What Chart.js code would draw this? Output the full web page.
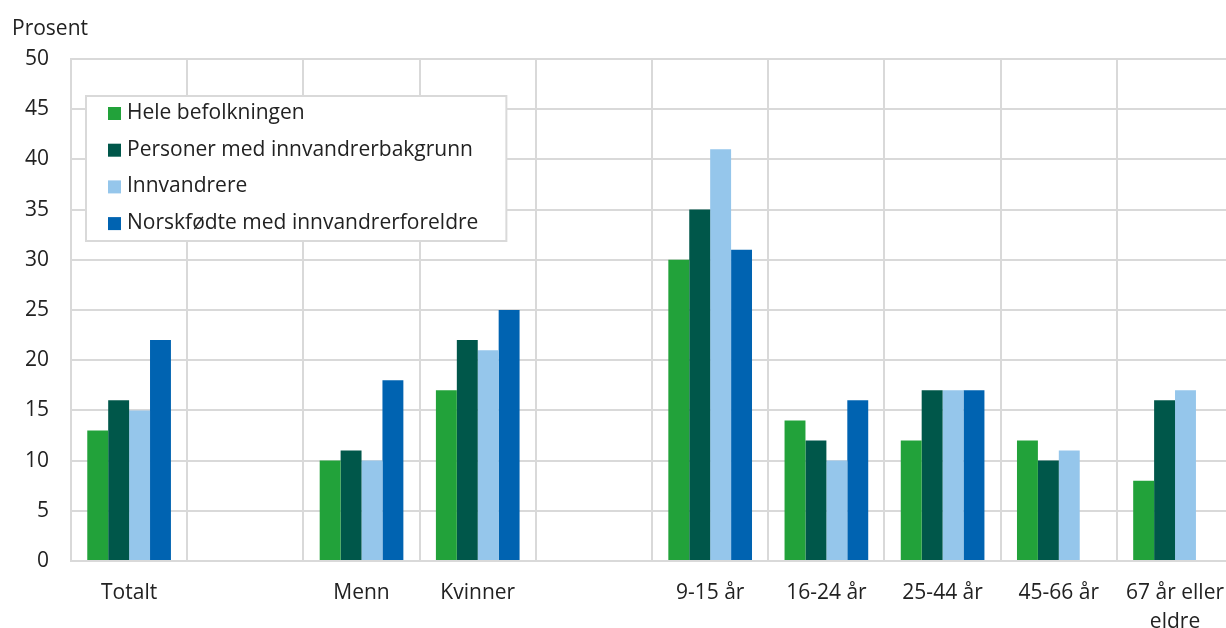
<!DOCTYPE html>
<html lang="no">
<head>
<meta charset="UTF-8">
<title>Prosent</title>
<script src="https://cdn.jsdelivr.net/npm/chart.js"></script>
<style>
    html, body {
        margin: 0;
        padding: 0;
        background: #fff;
        overflow: hidden;
    }
    #wrap {
        width: 1242px;
        height: 628px;
    }
</style>
</head>
<body>
<div id="wrap"><canvas id="chart"></canvas></div>
<script>
const categories = ['Totalt', '', 'Menn', 'Kvinner', '', '9-15 år', '16-24 år', '25-44 år', '45-66 år', ['67 år eller', 'eldre']];
const seriesNames = ['Hele befolkningen', 'Personer med innvandrerbakgrunn', 'Innvandrere', 'Norskfødte med innvandrerforeldre'];
const heleBefolkningen = [13, null, 10, 17, null, 30, 14, 12, 12, 8];
const innvandrerbakgrunn = [16, null, 11, 22, null, 35, 12, 17, 10, 16];
const innvandrere = [15, null, 10, 21, null, 41, 10, 17, 11, 17];
const norskfodte = [22, null, 18, 25, null, 31, 16, 17, null, null];
const colors = ['#22a23a', '#00574a', '#95c6eb', '#0063b1'];

const FONT = '"Open Sans", "Noto Sans", sans-serif';
const FONT_SIZE = 21;
const gridColor = '#d9d9d9';

// legend box inside the plot area + "Prosent" label above the y axis
const extras = {
    id: 'extras',
    afterDraw(chart) {
        const ctx = chart.ctx;
        const area = chart.chartArea;
        ctx.save();
        ctx.font = FONT_SIZE + 'px ' + FONT;
        ctx.fillStyle = '#222';
        ctx.textBaseline = 'middle';
        ctx.textAlign = 'left';
        ctx.fillText('Prosent', area.left - 59, area.top - 30);

        const sets = chart.data.datasets;
        let maxW = 0;
        sets.forEach(ds => { maxW = Math.max(maxW, ctx.measureText(ds.label).width); });
        const bx = area.left + 15, by = area.top + 37;
        const bw = 41 + maxW + 28, bh = 145;
        ctx.fillStyle = '#fff';
        ctx.fillRect(bx, by, bw, bh);
        ctx.strokeStyle = gridColor;
        ctx.lineWidth = 2;
        ctx.strokeRect(bx, by, bw, bh);
        sets.forEach((ds, i) => {
            const cy = by + 17 + i * 36.7;
            ctx.fillStyle = ds.backgroundColor;
            ctx.fillRect(bx + 22, cy - 6, 13, 13);
            ctx.fillStyle = '#222';
            ctx.fillText(ds.label, bx + 41, cy);
        });
        ctx.restore();
    }
};

const dataSets = [heleBefolkningen, innvandrerbakgrunn, innvandrere, norskfodte];

new Chart(document.getElementById('chart'), {
    type: 'bar',
    data: {
        labels: categories,
        datasets: dataSets.map((vals, i) => ({
            label: seriesNames[i],
            data: vals,
            backgroundColor: colors[i],
            borderWidth: 0,
            categoryPercentage: 0.72,
            barPercentage: 1
        }))
    },
    options: {
        responsive: true,
        maintainAspectRatio: false,
        animation: false,
        layout: { padding: { left: 0, right: 0, top: 59, bottom: 0 } },
        plugins: {
            legend: { display: false },
            tooltip: { enabled: false }
        },
        scales: {
            x: {
                afterFit(scale) { scale.height = 67; },
                grid: { color: gridColor, lineWidth: 2, drawTicks: false },
                border: { color: gridColor, width: 2 },
                ticks: {
                    color: '#222',
                    font: { family: FONT, size: FONT_SIZE, lineHeight: 1.35 },
                    padding: 18,
                    maxRotation: 0,
                    autoSkip: false
                }
            },
            y: {
                min: 0,
                max: 50,
                afterFit(scale) { scale.width = 71; },
                grid: { color: gridColor, lineWidth: 2, drawTicks: false },
                border: { color: gridColor, width: 2 },
                ticks: {
                    stepSize: 5,
                    color: '#222',
                    font: { family: FONT, size: FONT_SIZE },
                    padding: 22
                }
            }
        }
    },
    plugins: [extras]
});
</script>
</body>
</html>
